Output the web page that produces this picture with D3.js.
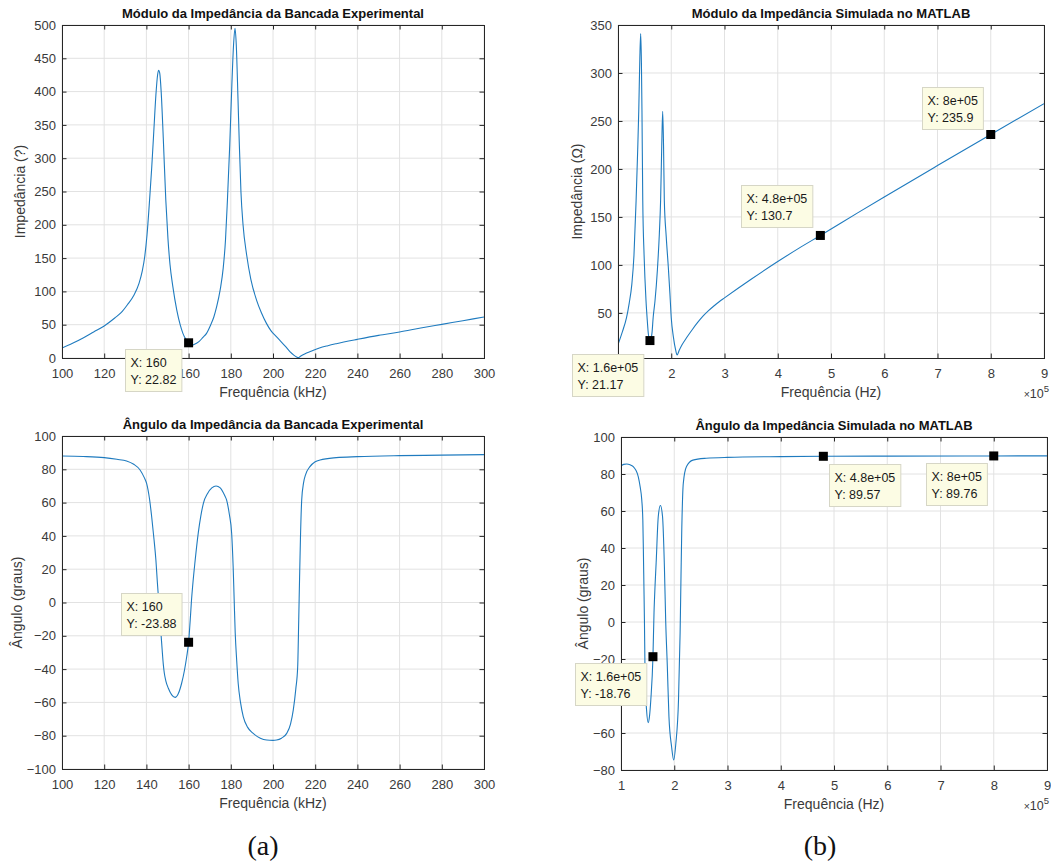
<!DOCTYPE html>
<html>
<head>
<meta charset="utf-8">
<script src="https://cdn.jsdelivr.net/npm/d3@7"></script>
<style>
  body { margin: 0; background: #fff; }
</style>
</head>
<body>
<svg id="chart"></svg>
<script>
// --- (a) bancada experimental: módulo
const expMagFreq = [100, 105, 110, 115, 120, 125, 128, 131, 134, 136.5, 138, 139.2, 140.3, 141.5, 142.5, 143.5,
  144.5, 145.3, 145.8, 146.3, 147, 148, 149.2, 150.2, 151.2, 152.5, 154.4, 156, 157.3, 158.7,
  160, 161.2, 162.3, 164.9, 166.8, 168.5, 170.5, 172, 173.3, 175, 176.4, 177.5, 178.4, 179.5, 180.5,
  181.3, 182, 182.6, 183.4, 184, 184.8, 185.8, 187.5, 189.5, 192.2, 194.5, 196.9, 199, 201.6, 204,
  206, 208, 210, 211.2, 212, 213, 215, 218, 222, 226, 230, 240, 250, 260, 270, 280, 290, 300];
const expMag = [15, 22, 30, 39, 48, 60, 68, 80, 94, 112, 130, 152, 185, 237, 285, 340,
  395, 425, 432, 428, 400, 330, 237, 180, 140, 108, 72, 50, 37, 28,
  22.82, 19, 20, 24.5, 31, 37, 50, 62, 77, 103, 135, 178, 237, 320, 410,
  470, 495, 470, 390, 325, 250, 200, 155, 118, 87, 68, 52, 41, 32, 24,
  17, 9.5, 4, 1.5, 0.5, 2.5, 6, 10, 15, 18.5, 21.5, 28, 34, 39, 45, 50.5, 56, 61.5];

// --- (a) bancada experimental: ângulo
const expAngFreq = [100, 110, 120, 126, 130.6, 134, 137, 139, 140.1, 141.5, 142.5, 143.6, 144.5, 145.2,
  145.8, 146.4, 146.9, 147.5, 148, 148.5, 149.2, 150.4, 152, 153.6, 155.2, 156.7, 158, 159.1, 160, 160.9,
  161.3, 162, 163, 164.6, 165.8, 167, 169, 171, 173, 175, 177, 178, 179.3, 180.4, 181.1, 181.6, 182.1,
  182.8, 183.5, 184.6, 185.9, 188, 190.6, 194, 197, 200, 201.7, 204, 206.5, 208.3, 209.6, 210.8,
  211.7, 212.2, 212.6, 213, 213.6, 214.5, 215.5, 217.5, 220, 222.3, 230, 240, 260, 280, 300];
const expAng = [88, 87.7, 87, 86, 85, 83, 79.6, 75, 71.6, 62, 51.5, 38, 25.5, 12,
  1.5, -10, -18.5, -29, -37, -42.5, -47, -51.5, -55.5, -57, -54.5, -48.5, -41, -32.6, -23.88, -8,
  0, 11, 24, 42, 52, 59.6, 65.5, 68.8, 70, 68.8, 64.5, 61.6, 53, 41.6, 22, 1.5, -18.5,
  -35, -48.5, -60, -68.5, -75, -78.6, -81.5, -82.6, -82.8, -82.6, -81.5, -78.6, -73, -64.6, -52,
  -38.6, -10, 15, 38, 61.6, 72, 77, 81.6, 84.5, 85.6, 87, 87.6, 88.2, 88.5, 88.8];

// --- (b) simulação MATLAB: módulo (frequência em 1e5 Hz)
const simMagFreq = [1.0, 1.08, 1.16, 1.21, 1.26, 1.30, 1.34, 1.37, 1.39, 1.41, 1.426, 1.44, 1.45, 1.465,
  1.49, 1.526, 1.55, 1.57, 1.6, 1.62, 1.64, 1.66, 1.695, 1.74, 1.776, 1.80, 1.82, 1.839, 1.855,
  1.87, 1.905, 1.945, 1.975, 2.0, 2.04, 2.08, 2.11, 2.15, 2.2, 2.29, 2.4, 2.5, 2.6, 2.7, 2.8, 2.9, 3.0, 3.5,
  4.0, 4.4, 4.8, 5.5, 6.0, 7.0, 8.0, 9.0];
const simMag = [17, 30, 45, 60, 80, 110, 167, 220, 261, 315, 341, 310, 261, 167,
  110, 62.6, 42, 28, 21.17, 23, 30, 45, 62.6, 95, 132, 167, 220, 260, 225,
  167, 130, 97.5, 70, 45, 25, 12, 6.2, 11, 16.5, 24.3, 33, 40.3, 46.8, 52.3, 57.2, 61.6, 65.6, 85,
  103.5, 117.5, 130.7, 154.2, 170.8, 203.5, 235.9, 268];

// --- (b) simulação MATLAB: ângulo
const simAngFreq = [1.0, 1.05, 1.107, 1.17, 1.23, 1.28, 1.325, 1.36, 1.39, 1.41, 1.42, 1.43, 1.44, 1.45,
  1.465, 1.48, 1.51, 1.535, 1.56, 1.6, 1.62, 1.64, 1.66, 1.70, 1.74, 1.78, 1.815, 1.84, 1.87,
  1.9, 1.95, 1.99, 2.03, 2.08, 2.11, 2.12, 2.14, 2.17, 2.23, 2.35, 2.6, 3.0, 4.0, 4.8, 6.0, 8.0, 9.0];
const simAng = [84.5, 85.2, 85.4, 85, 84, 82, 78.5, 73, 66, 55, 39, 20, 1, -24,
  -40, -47.6, -54.4, -51, -42, -18.76, 5, 20, 32, 57, 63, 57, 30, 0, -24,
  -51, -67.4, -74.6, -65.6, -42, -6, 12, 48, 75, 84, 87.5, 88.5, 89.0, 89.4, 89.57, 89.67, 89.76, 89.8];

// data tips [x, y, rótulo X, rótulo Y]
const expMagTips = [[160, 22.82, '160', '22.82']];
const expAngTips = [[160, -23.88, '160', '-23.88']];
const simMagTips = [[1.6, 21.17, '1.6e+05', '21.17'], [4.8, 130.7, '4.8e+05', '130.7'], [8, 235.9, '8e+05', '235.9']];
const simAngTips = [[1.6, -18.76, '1.6e+05', '-18.76'], [4.8, 89.57, '4.8e+05', '89.57'], [8, 89.76, '8e+05', '89.76']];

const expFreqTicks = [100, 120, 140, 160, 180, 200, 220, 240, 260, 280, 300];
const simFreqTicks = [1, 2, 3, 4, 5, 6, 7, 8, 9];
const expMagTicks = [0, 50, 100, 150, 200, 250, 300, 350, 400, 450, 500];
const angTicksA = [-100, -80, -60, -40, -20, 0, 20, 40, 60, 80, 100];
const simMagTicks = [50, 100, 150, 200, 250, 300, 350];
const angTicksB = [-80, -60, -40, -20, 0, 20, 40, 60, 80, 100];

const width = 1051;
const height = 863;
const lineColor = '#1f7bbf';
const axisColor = '#262626';
const gridColor = '#e2e2e2';
const sans = '"Liberation Sans", Arial, sans-serif';
const serif = '"Liberation Serif", "DejaVu Serif", serif';

const chart = d3.select('#chart')
  .attr('width', width)
  .attr('height', height)
  .style('font-family', sans);

// side: where the box sits relative to the marker, gap in px
const panels = [
  {
    box: {left: 62, right: 484, top: 25, bottom: 358},
    xDomain: [100, 300], yDomain: [0, 500],
    xTicks: expFreqTicks, yTicks: expMagTicks,
    xs: expMagFreq, ys: expMag,
    title: 'Módulo da Impedância da Bancada Experimental',
    xLabel: 'Frequência (kHz)', yLabel: 'Impedância (?)', yLabelX: 24.5,
    tips: expMagTips, tipSides: [['sw', 7, 6]]
  },
  {
    box: {left: 62, right: 484, top: 436, bottom: 769},
    xDomain: [100, 300], yDomain: [-100, 100],
    xTicks: expFreqTicks, yTicks: angTicksA,
    xs: expAngFreq, ys: expAng,
    title: 'Ângulo da Impedância da Bancada Experimental',
    xLabel: 'Frequência (kHz)', yLabel: 'Ângulo (graus)', yLabelX: 21.5,
    tips: expAngTips, tipSides: [['nw', 7, 7]]
  },
  {
    box: {left: 618, right: 1044, top: 25, bottom: 358},
    xDomain: [1, 9], yDomain: [3, 350],
    xTicks: simFreqTicks, yTicks: simMagTicks, exponent: true,
    xs: simMagFreq, ys: simMag,
    title: 'Módulo da Impedância Simulada no MATLAB',
    xLabel: 'Frequência (Hz)', yLabel: 'Impedância (Ω)', yLabelX: 581.5,
    tips: simMagTips, tipSides: [['sw', 7, 13], ['nw', 8, 8], ['nw', 8, 5]]
  },
  {
    box: {left: 621, right: 1047, top: 437, bottom: 770},
    xDomain: [1, 9], yDomain: [-80, 100],
    xTicks: simFreqTicks, yTicks: angTicksB, exponent: true,
    xs: simAngFreq, ys: simAng,
    title: 'Ângulo da Impedância Simulada no MATLAB',
    xLabel: 'Frequência (Hz)', yLabel: 'Ângulo (graus)', yLabelX: 587.5,
    tips: simAngTips, tipSides: [['sw', 7, 6], ['se', 6, 8], ['sw', 7, 7]]
  }
];

function styleAxis(g) {
  g.select('.domain').remove();
  g.selectAll('.tick line').attr('stroke', axisColor);
  g.selectAll('.tick text')
    .attr('fill', '#3a3a3a')
    .attr('font-size', 13)
    .attr('font-family', sans);
}

function drawPanel(p) {
  const b = p.box;
  const x = d3.scaleLinear().domain(p.xDomain).range([b.left, b.right]);
  const y = d3.scaleLinear().domain(p.yDomain).range([b.bottom, b.top]);
  const g = chart.append('g');

  // grid
  g.append('g').selectAll('line').data(p.xTicks).enter().append('line')
    .attr('x1', d => x(d)).attr('x2', d => x(d))
    .attr('y1', b.top).attr('y2', b.bottom)
    .attr('stroke', gridColor);
  g.append('g').selectAll('line').data(p.yTicks).enter().append('line')
    .attr('x1', b.left).attr('x2', b.right)
    .attr('y1', d => y(d)).attr('y2', d => y(d))
    .attr('stroke', gridColor);

  // curve
  const clipId = 'clip' + b.left + '_' + b.top;
  g.append('clipPath').attr('id', clipId).append('rect')
    .attr('x', b.left).attr('y', b.top)
    .attr('width', b.right - b.left).attr('height', b.bottom - b.top);
  g.append('path')
    .datum(d3.zip(p.xs, p.ys))
    .attr('clip-path', `url(#${clipId})`)
    .attr('fill', 'none')
    .attr('stroke', lineColor)
    .attr('stroke-width', 1.1)
    .attr('d', d3.line().x(d => x(d[0])).y(d => y(d[1])).curve(d3.curveMonotoneX));

  // axes, ticks inward
  const tick = 4.5;
  g.append('g').attr('transform', `translate(0,${b.bottom})`)
    .call(d3.axisBottom(x).tickValues(p.xTicks).tickSize(-tick).tickSizeOuter(0).tickPadding(11)
      .tickFormat(d3.format('d')))
    .call(styleAxis);
  g.append('g').attr('transform', `translate(0,${b.top})`)
    .call(d3.axisTop(x).tickValues(p.xTicks).tickSize(-tick).tickSizeOuter(0).tickFormat(''))
    .call(styleAxis);
  g.append('g').attr('transform', `translate(${b.left},0)`)
    .call(d3.axisLeft(y).tickValues(p.yTicks).tickSize(-tick).tickSizeOuter(0).tickPadding(6)
      .tickFormat(d3.format('d')))
    .call(styleAxis);
  g.append('g').attr('transform', `translate(${b.right},0)`)
    .call(d3.axisRight(y).tickValues(p.yTicks).tickSize(-tick).tickSizeOuter(0).tickFormat(''))
    .call(styleAxis);

  g.append('rect')
    .attr('x', b.left + 0.5).attr('y', b.top + 0.5)
    .attr('width', b.right - b.left).attr('height', b.bottom - b.top)
    .attr('fill', 'none').attr('stroke', axisColor).attr('stroke-width', 1);

  const cx = (b.left + b.right) / 2;
  const cy = (b.top + b.bottom) / 2;

  g.append('text')
    .attr('x', cx).attr('y', b.top - 7.5)
    .attr('text-anchor', 'middle')
    .attr('font-size', 13).attr('font-weight', 'bold').attr('fill', '#111')
    .text(p.title);

  g.append('text')
    .attr('x', cx).attr('y', b.bottom + 39)
    .attr('text-anchor', 'middle')
    .attr('font-size', 14).attr('fill', '#3a3a3a')
    .text(p.xLabel);

  g.append('text')
    .attr('transform', `translate(${p.yLabelX},${cy}) rotate(-90)`)
    .attr('text-anchor', 'middle')
    .attr('font-size', 14).attr('fill', '#3a3a3a')
    .text(p.yLabel);

  if (p.exponent) {
    const e = g.append('text')
      .attr('x', width - 2).attr('y', b.bottom + 40)
      .attr('text-anchor', 'end')
      .attr('font-size', 12.5).attr('fill', '#3a3a3a');
    e.append('tspan').attr('font-size', 10.5).text('×');
    e.append('tspan').text('10');
    e.append('tspan').attr('font-size', 9.5).attr('dy', -6).text('5');
  }

  // data tips
  p.tips.forEach((t, i) => {
    const [side, gx, gy] = p.tipSides[i];
    const mx = x(t[0]);
    const my = y(t[1]);
    const tip = g.append('g');
    const box = tip.append('rect')
      .attr('fill', '#fcfce4').attr('stroke', '#d6d6c6').attr('stroke-width', 1);
    const l1 = tip.append('text').attr('font-size', 12.5).attr('fill', '#1a1a1a').text('X: ' + t[2]);
    const l2 = tip.append('text').attr('font-size', 12.5).attr('fill', '#1a1a1a').text('Y: ' + t[3]);
    const w = Math.max(l1.node().getComputedTextLength(), l2.node().getComputedTextLength()) + 10.5;
    const h = 42;
    const bx = side.endsWith('w') ? mx - gx - w : mx + gx;
    const by = side.startsWith('s') ? my + gy : my - gy - h;
    box.attr('x', Math.round(bx) + 0.5).attr('y', Math.round(by) + 0.5).attr('width', w).attr('height', h);
    l1.attr('x', Math.round(bx) + 5.5).attr('y', Math.round(by) + 18);
    l2.attr('x', Math.round(bx) + 5.5).attr('y', Math.round(by) + 34.5);
    tip.append('rect')
      .attr('x', mx - 4.5).attr('y', my - 4.5).attr('width', 9).attr('height', 9)
      .attr('fill', '#000');
  });
}

panels.forEach(drawPanel);

chart.append('text')
  .attr('x', 263).attr('y', 855)
  .attr('text-anchor', 'middle')
  .style('font-family', serif)
  .attr('font-size', 28).attr('fill', '#111')
  .text('(a)');
chart.append('text')
  .attr('x', 820).attr('y', 855)
  .attr('text-anchor', 'middle')
  .style('font-family', serif)
  .attr('font-size', 28).attr('fill', '#111')
  .text('(b)');
</script>
</body>
</html>
